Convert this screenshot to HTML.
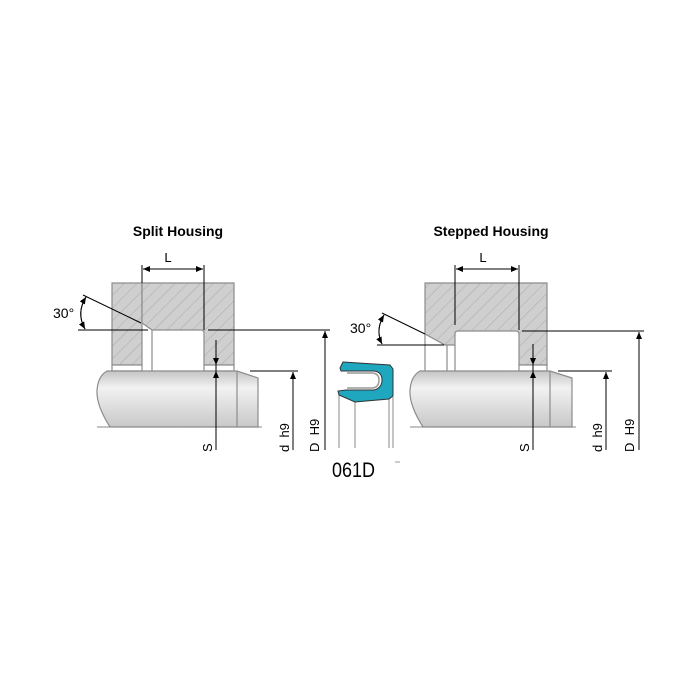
<!DOCTYPE html>
<html><head><meta charset="utf-8"><style>html,body{margin:0;padding:0;background:#fff}svg{display:block}</style></head><body>
<svg width="700" height="700" viewBox="0 0 700 700" xmlns="http://www.w3.org/2000/svg" font-family="Liberation Sans, sans-serif">
<defs>
<pattern id="h" patternUnits="userSpaceOnUse" width="9" height="9" patternTransform="rotate(45)">
<rect width="9" height="9" fill="#cfcfcf"/><line x1="0" y1="0" x2="0" y2="9" stroke="#a9a9a9" stroke-width="1"/></pattern>
<linearGradient id="g" x1="0" y1="0" x2="0" y2="1"><stop offset="0" stop-color="#c4c4c4"/><stop offset="0.3" stop-color="#f2f2f2"/><stop offset="1" stop-color="#c8c8c8"/></linearGradient>
<marker id="a" markerWidth="8" markerHeight="8" refX="7" refY="4" orient="auto" markerUnits="userSpaceOnUse"><path d="M0,1 L7,4 L0,7z" fill="#000"/></marker>
</defs>
<rect width="700" height="700" fill="#fff"/>
<text x="178" y="236" font-size="14" font-weight="bold" text-anchor="middle">Split Housing</text>
<text x="491" y="236" font-size="14" font-weight="bold" text-anchor="middle">Stepped Housing</text>
<!-- LEFT -->
<g stroke="#8c8c8c" stroke-width="1.2">
<rect x="112" y="283" width="30" height="82" fill="url(#h)"/>
<rect x="112" y="365" width="30" height="6" fill="#fff"/>
<path d="M142,283 H234 V365 H204 V333 Q204,330 201,330 H152 L142,323 Z" fill="url(#h)"/>
<rect x="204" y="365" width="30" height="6" fill="#fff"/>
<line x1="152" y1="330" x2="152" y2="371"/>
<path d="M107,371 H237 L258,378 V427 H110 Q96,405 97,390 Q98,376 107,371 Z" fill="url(#g)"/>
<line x1="237" y1="371" x2="237" y2="427"/>
</g>
<line x1="97" y1="427" x2="262" y2="427" stroke="#888" stroke-dasharray="14,3,2,3"/>
<g stroke="#000" stroke-width="1" fill="none">
<line x1="142" y1="265" x2="142" y2="283"/><line x1="204" y1="265" x2="204" y2="330"/>
<line x1="143" y1="269" x2="203" y2="269" marker-end="url(#a)"/><line x1="203" y1="269" x2="143" y2="269" marker-end="url(#a)"/>
<line x1="83" y1="295" x2="141" y2="323"/><line x1="78" y1="330" x2="148" y2="330"/>
<path d="M86,297 Q76,313 85,329" marker-end="url(#a)"/><path d="M85,329 Q76,313 86,297" marker-end="url(#a)"/>
<line x1="208" y1="330" x2="330" y2="330"/>
<line x1="325" y1="450" x2="325" y2="331" marker-end="url(#a)"/>
<line x1="250" y1="371" x2="298" y2="371"/>
<line x1="293" y1="450" x2="293" y2="372" marker-end="url(#a)"/>
<line x1="216" y1="340" x2="216" y2="450"/>
<line x1="216" y1="355" x2="216" y2="365" marker-end="url(#a)"/>
<line x1="216" y1="385" x2="216" y2="371" marker-end="url(#a)"/>
</g>
<text x="168" y="262" font-size="13" text-anchor="middle">L</text>
<text x="53" y="318" font-size="14">30°</text>
<text transform="translate(212,452) rotate(-90)" font-size="13">S</text>
<text transform="translate(289,452) rotate(-90)" font-size="13">d&#160;&#160;h9</text>
<text transform="translate(319,452) rotate(-90)" font-size="13">D&#160;&#160;H9</text>
<!-- RIGHT -->
<g stroke="#8c8c8c" stroke-width="1.2">
<path d="M425,283 H547 V365 H519 V334 Q519,331 516,331 H458 Q455,331 455,334 V345 H445 L425,334 Z" fill="url(#h)"/>
<line x1="425" y1="334" x2="425" y2="371"/>
<line x1="447" y1="345" x2="447" y2="371"/><line x1="455" y1="345" x2="455" y2="371"/>
<rect x="519" y="365" width="28" height="6" fill="#fff"/>
<path d="M420,371 H550 L572,378 V427 H423 Q409,405 410,390 Q411,376 420,371 Z" fill="url(#g)"/>
<line x1="550" y1="371" x2="550" y2="427"/>
</g>
<line x1="410" y1="427" x2="576" y2="427" stroke="#888" stroke-dasharray="14,3,2,3"/>
<g stroke="#000" stroke-width="1" fill="none">
<line x1="455" y1="265" x2="455" y2="325"/><line x1="519" y1="265" x2="519" y2="330"/>
<line x1="456" y1="269" x2="518" y2="269" marker-end="url(#a)"/><line x1="518" y1="269" x2="456" y2="269" marker-end="url(#a)"/>
<line x1="382" y1="313" x2="425" y2="334"/><line x1="377" y1="345" x2="444" y2="345"/>
<path d="M384,315 Q375,330 382,344" marker-end="url(#a)"/><path d="M382,344 Q375,330 384,315" marker-end="url(#a)"/>
<line x1="522" y1="331" x2="644" y2="331"/>
<line x1="639" y1="450" x2="639" y2="332" marker-end="url(#a)"/>
<line x1="558" y1="371" x2="612" y2="371"/>
<line x1="606" y1="450" x2="606" y2="372" marker-end="url(#a)"/>
<line x1="533" y1="344" x2="533" y2="450"/>
<line x1="533" y1="355" x2="533" y2="365" marker-end="url(#a)"/>
<line x1="533" y1="385" x2="533" y2="371" marker-end="url(#a)"/>
</g>
<text x="483" y="262" font-size="13" text-anchor="middle">L</text>
<text x="350" y="333" font-size="14">30°</text>
<text transform="translate(529,452) rotate(-90)" font-size="13">S</text>
<text transform="translate(602,452) rotate(-90)" font-size="13">d&#160;&#160;h9</text>
<text transform="translate(634,452) rotate(-90)" font-size="13">D&#160;&#160;H9</text>
<!-- seal -->
<g stroke="#888" stroke-width="1">
<line x1="339" y1="395" x2="339" y2="448"/><line x1="355" y1="402" x2="355" y2="448"/>
<line x1="389" y1="399" x2="389" y2="448"/><line x1="393" y1="397" x2="393" y2="448"/>
</g>
<path d="M343,362 L390,365 L393,369 L393,396 L389,399 L355,402 L339,395 L338,391 L346,390 L374,390 Q382,388 382,380 Q382,372 374,371 L347,371 L341,371 L340,368 Z" fill="#1ea7bf" stroke="#333" stroke-width="1"/>
<path d="M347,373 L373,373 Q379,374 379,380 Q379,387 373,388 L347,388" fill="none" stroke="#999" stroke-width="1.5"/>
<text x="332" y="477" font-size="21" fill="#000" textLength="43" lengthAdjust="spacingAndGlyphs">061D</text>
<line x1="395" y1="462" x2="400" y2="462" stroke="#999"/>
</svg>
</body></html>
